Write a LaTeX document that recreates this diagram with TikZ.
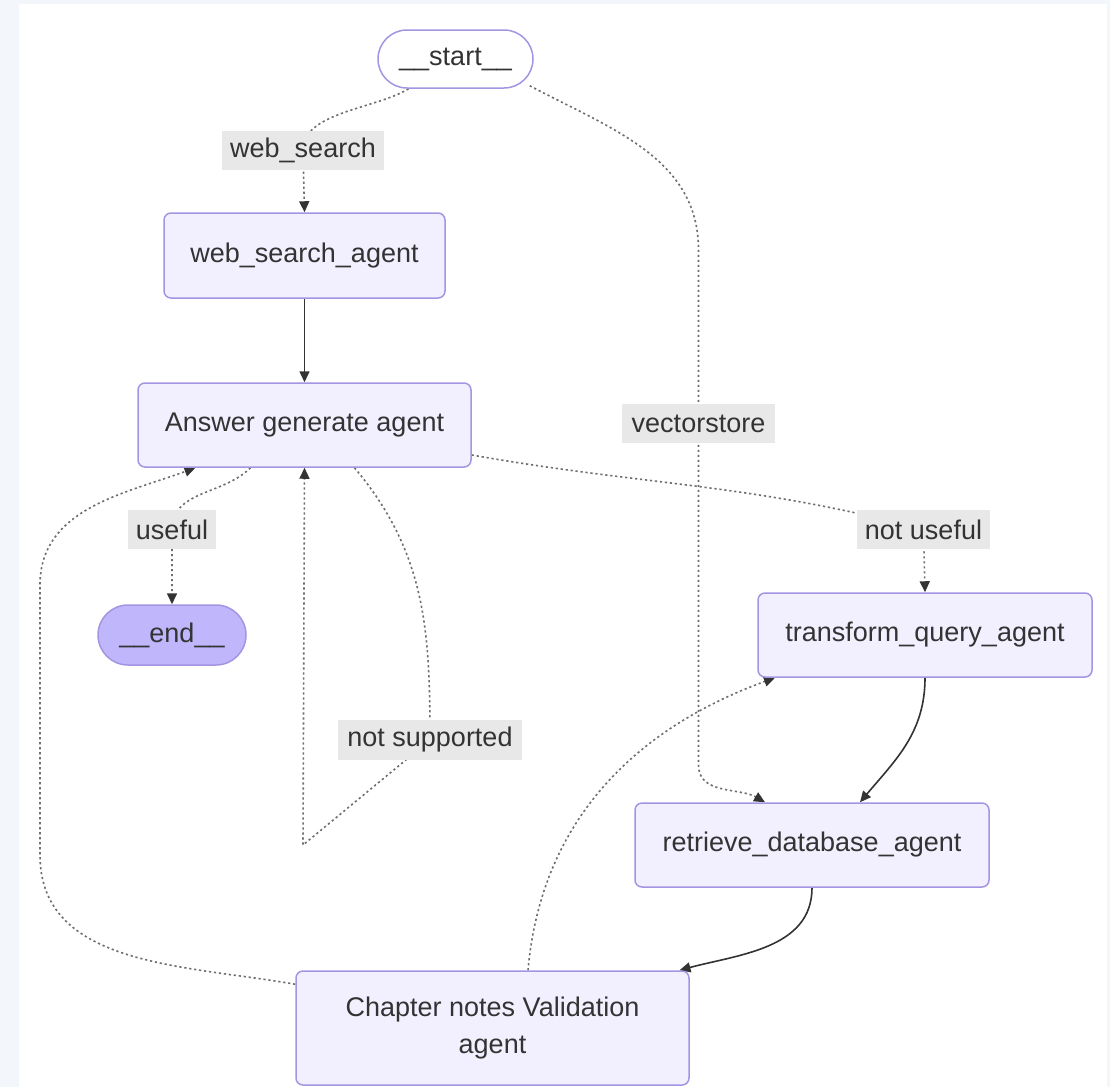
\documentclass[tikz,border=0pt]{standalone}
\usepackage{fontspec}
\setmainfont{Liberation Sans}
\usetikzlibrary{arrows.meta}
\definecolor{bgc}{RGB}{243,246,251}
\definecolor{nfill}{RGB}{242,240,255}
\definecolor{nstroke}{RGB}{165,148,226}
\definecolor{endfill}{RGB}{191,182,252}
\definecolor{txt}{RGB}{51,51,51}
\definecolor{lblfill}{RGB}{232,232,232}
\definecolor{dotc}{RGB}{110,110,110}
\pgfdeclarelayer{back}
\pgfdeclarelayer{bg}
\pgfsetlayers{back,bg,main}
\begin{document}
\begin{tikzpicture}[x=1pt,y=1pt,
  box/.style={draw=nstroke, line width=1.5pt, fill=nfill, rounded corners=7pt,
    inner sep=0pt, text=txt, font=\fontsize{27}{37}\selectfont, align=center},
  pill/.style={box, rounded corners=29pt},
  lbl/.style={fill=lblfill, inner sep=0pt, text=txt, font=\fontsize{27}{37}\selectfont},
  dotedge/.style={draw=dotc, line width=1.6pt, dash pattern=on 2.2pt off 2.8pt, -{Triangle[length=11pt,width=10pt,color=txt]}},
  soledge/.style={draw=txt, line width=1.6pt, -{Triangle[length=11pt,width=10pt,color=txt]}}
]
% background
\begin{pgfonlayer}{back}
\fill[bgc] (0,0) rectangle (1110,-1087);
\fill[white] (19,-4) rectangle (1107,-1087);
\end{pgfonlayer}
\useasboundingbox (0,0) rectangle (1110,-1087);

% nodes
\node[pill, fill=white, minimum width=155pt, minimum height=58pt] (start) at (455.5,-59) {\_\_start\_\_};
\node[box, minimum width=281pt, minimum height=85pt] (wsa) at (304.5,-255.5) {web\_search\_agent};
\node[box, minimum width=333pt, minimum height=84pt] (asa) at (304.5,-425) {Answer generate agent};
\node[pill, fill=endfill, rounded corners=30pt, minimum width=148pt, minimum height=60pt] (endn) at (172,-635) {\_\_end\_\_};
\node[box, minimum width=334pt, minimum height=84pt] (tqa) at (925,-635) {transform\_query\_agent};
\node[box, minimum width=354pt, minimum height=84pt] (rda) at (812,-845) {retrieve\_database\_agent};
\node[box, minimum width=393pt, minimum height=114pt] (cna) at (492.5,-1028) {Chapter notes Validation\\agent};

% labels
\node[lbl, minimum width=162pt, minimum height=39pt] (l1) at (303,-150) {web\_search};
\node[lbl, minimum width=153pt, minimum height=39pt] (l2) at (698.5,-423.5) {vectorstore};
\node[lbl, minimum width=88pt, minimum height=39pt] (l4) at (172,-529.5) {useful};
\node[lbl, minimum width=133pt, minimum height=39pt] (l5) at (923.5,-529.5) {not useful};
\node[lbl, minimum width=184pt, minimum height=40pt] (l6) at (430,-740) {not supported};

% helper coordinates
\coordinate (v0) at (698.5,-250);
\coordinate (v1) at (698.5,-765);
\coordinate (lc) at (303,-845);
\coordinate (lc1) at (40,-855);
\coordinate (lc2) at (40,-585);

\begin{pgfonlayer}{bg}
\draw[dotedge] ([xshift=-47]start.south) to[out=212,in=90,looseness=0.8] (l1.center) -- (wsa.north);
\draw[dotedge] ([xshift=-4,yshift=3]start.south east) to[out=-28,in=90] (v0) -- (l2.center) -- (v1) to[out=270,in=150] ([xshift=-47]rda.north);
\draw[soledge] (wsa.south) -- (asa.north);
\draw[dotedge] ([xshift=-54]asa.south) to[out=225,in=90] (l4.center) -- (endn.north);
\draw[dotedge] ([yshift=-30]asa.east) to[out=-10,in=165] (l5.center) -- (tqa.north);
\draw[dotedge] ([xshift=50]asa.south) to[out=-50,in=90] (l6.center) -- (lc) -- (asa.south);
\draw[soledge] (tqa.south) to[out=270,in=50] ([xshift=48]rda.north);
\draw[soledge] (rda.south) to[out=270,in=15] ([xshift=187]cna.north);
\draw[dotedge] ([xshift=35.5]cna.north) to[out=85,in=200] ([xshift=-150]tqa.south);
\draw[dotedge] ([yshift=-14]cna.north west) to[out=170,in=270] (lc1) -- (lc2) to[out=90,in=200] ([xshift=-109]asa.south);
\end{pgfonlayer}
\end{tikzpicture}
\end{document}
